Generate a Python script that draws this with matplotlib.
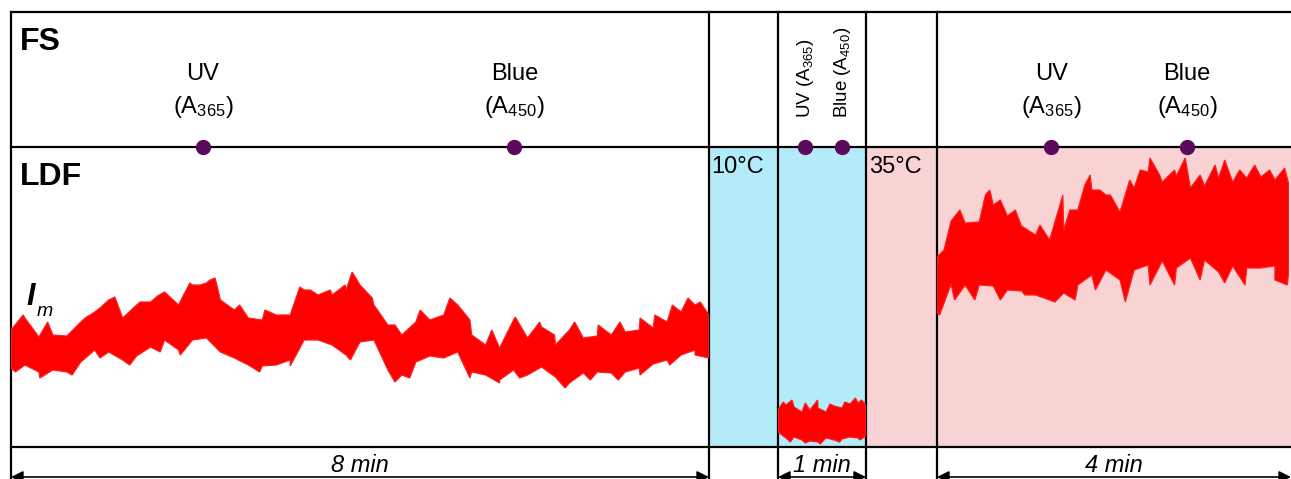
import numpy as np
import matplotlib.pyplot as plt

plt.rcParams['font.family'] = ['Liberation Sans', 'DejaVu Sans']
plt.rcParams['mathtext.fontset'] = 'custom'
plt.rcParams['mathtext.rm'] = 'Liberation Sans'
plt.rcParams['mathtext.it'] = 'Liberation Sans:italic'

W, H = 1291, 479

# segments: duration in minutes and label
seg_minutes = [8, 1, 4]
seg_labels = ['8 min', '1 min', '4 min']
temp_labels = ['10°C', '35°C']

# LDF trace, upper / lower envelope (arbitrary units, 0..300 panel height)
seg1_upper = [117, 129, 110, 112, 111, 125, 135, 147, 129, 142, 145, 155, 142,
              162, 164, 147, 137, 129, 127, 132, 132, 157, 152, 152, 157, 162,
              142, 122, 112, 125, 127, 132, 142, 112, 102, 99, 127, 109, 120,
              102, 117, 109, 111, 112, 115, 117, 119, 125, 135, 142, 132]
seg1_lower = [79, 82, 75, 77, 75, 85, 97, 95, 87, 91, 100, 107, 97,
              107, 109, 95, 89, 82, 81, 82, 87, 107, 107, 102, 92, 105,
              107, 77, 72, 85, 91, 89, 95, 75, 72, 67, 77, 72, 80,
              70, 64, 74, 75, 74, 75, 79, 83, 87, 92, 97, 89]

seg2_upper = [37, 42, 40, 35, 37, 39, 35, 41, 39, 43, 44, 42]
seg2_lower = [15, 9, 10, 7, 6, 5, 9, 7, 8, 10, 9, 11]

seg3_upper = [190, 226, 224, 225, 242, 231, 221, 212, 207, 217, 237, 257, 252,
              235, 259, 275, 265, 271, 259, 261, 269, 265, 269, 270, 267, 262]
seg3_lower = [134, 163, 162, 162, 161, 157, 156, 152, 147, 154, 162, 172, 177,
              167, 177, 182, 186, 179, 189, 187, 175, 181, 179, 179, 181, 177]

# single noise spikes above / below the envelope: time (min), value
seg1_peak_t = [0.14, 0.42, 0.85, 1.02, 1.19, 1.48, 1.68, 1.76, 2.05, 2.17, 2.28,
               2.34, 2.62, 2.91, 3.31, 3.43, 3.66, 3.83, 3.91, 4.14, 4.40, 4.69,
               5.03, 5.26, 5.51, 5.78, 6.06, 6.23, 6.46, 6.73, 6.98, 7.21, 7.38,
               7.58, 7.76, 7.90]
seg1_peak_v = [132, 125, 129, 139, 150, 145, 151, 155, 164, 162, 167,
               169, 142, 137, 160, 157, 157, 162, 175, 149, 122, 137,
               149, 127, 117, 130, 125, 112, 125, 122, 125, 129, 132,
               142, 149, 145]
seg1_dip_t = [0.05, 0.33, 0.70, 1.02, 1.36, 1.71, 1.94, 2.85, 3.20, 3.89, 4.40,
              4.57, 5.26, 5.60, 5.83, 6.35, 6.64, 6.96, 7.21, 7.55, 7.84]
seg1_dip_v = [75, 69, 72, 89, 82, 95, 92, 75, 81, 87, 65,
              69, 69, 64, 69, 59, 67, 67, 72, 82, 92]

seg2_peak_t = [0.06, 0.16, 0.31, 0.45, 0.59, 0.76, 0.88, 0.95]
seg2_peak_v = [45, 47, 44, 47, 43, 45, 49, 47]
seg2_dip_t = [0.14, 0.31, 0.48, 0.70, 0.93]
seg2_dip_v = [5, 4, 3, 5, 7]

seg3_peak_t = [0.08, 0.26, 0.55, 0.60, 0.72, 0.89, 1.17, 1.43, 1.51, 1.68, 1.74,
               1.85, 1.97, 2.19, 2.31, 2.42, 2.53, 2.70, 2.82, 2.99, 3.16, 3.27,
               3.44, 3.61, 3.78, 3.95]
seg3_peak_v = [197, 237, 252, 257, 247, 237, 222, 252, 237, 262, 272,
               257, 252, 267, 277, 289, 272, 277, 289, 272, 282, 287,
               277, 282, 277, 279]
seg3_dip_t = [0.03, 0.20, 0.43, 0.72, 1.00, 1.34, 1.57, 1.80, 2.14, 2.42, 2.70,
              2.99, 3.27, 3.50, 3.84, 3.98]
seg3_dip_v = [132, 147, 147, 147, 152, 145, 147, 157, 145, 162, 162,
              167, 164, 162, 167, 162]

# stimulus times (min) within each segment
uv_times = [2.2, 0.31, 1.30]
blue_times = [5.77, 0.73, 2.84]

# layout in pixels
X0, X1E, X2S, X2E, X3S, X3E = 11, 709, 778, 866, 937, 1289
Y_TOP, Y_MID, Y_BOT = 12, 147, 447
seg_px = [(X0, X1E), (X2S, X2E), (X3S, X3E)]


def merge_edge(t, v, st, sv):
    # envelope samples and spike readings, ordered in time
    tt = np.concatenate([t, st])
    vv = np.concatenate([v, sv])
    order = np.argsort(tt, kind='stable')
    return tt[order], vv[order]


fig = plt.figure(figsize=(W / 100, H / 100), dpi=100)
bg = fig.add_axes([0, 0, 1, 1])
bg.set_xlim(0, W)
bg.set_ylim(H, 0)
bg.axis('off')

# coloured temperature zones
bg.fill_between([X1E, X2E], Y_MID, Y_BOT, color='#b3ecf8', lw=0, zorder=0)
bg.fill_between([X2E, W], Y_MID, Y_BOT, color='#f9d2d4', lw=0, zorder=0)

lw = 1.6
for y in (Y_TOP, Y_MID, Y_BOT):
    bg.plot([X0, W], [y, y], color='black', lw=lw, zorder=3)
for x in (X0, X1E, X2S, X2E, X3S):
    bg.plot([x, x], [Y_TOP, H], color='black', lw=lw, zorder=3)

bg.text(20, 50, 'FS', fontsize=23, fontweight='bold', va='baseline')
bg.text(20, 185, 'LDF', fontsize=23, fontweight='bold', va='baseline')
bg.text(711, 173, temp_labels[0], fontsize=17, va='baseline')
bg.text(869, 173, temp_labels[1], fontsize=17, va='baseline')
bg.text(26, 305, 'I', fontsize=22, fontstyle='italic', fontweight='bold', va='baseline')
bg.text(37, 316, 'm', fontsize=14, fontstyle='italic', va='baseline')

uppers = [seg1_upper, seg2_upper, seg3_upper]
lowers = [seg1_lower, seg2_lower, seg3_lower]
peaks = [(seg1_peak_t, seg1_peak_v), (seg2_peak_t, seg2_peak_v), (seg3_peak_t, seg3_peak_v)]
dips = [(seg1_dip_t, seg1_dip_v), (seg2_dip_t, seg2_dip_v), (seg3_dip_t, seg3_dip_v)]
for i, (x0, x1) in enumerate(seg_px):
    ax = fig.add_axes([x0 / W, (H - Y_BOT) / H, (x1 - x0) / W, (Y_BOT - Y_MID) / H])
    ax.set_xlim(0, seg_minutes[i])
    ax.set_ylim(0, 300)
    ax.patch.set_alpha(0)
    ax.axis('off')
    t = np.linspace(0, seg_minutes[i], len(uppers[i]))
    tu, vu = merge_edge(t, np.array(uppers[i], float), *peaks[i])
    tl, vl = merge_edge(t, np.array(lowers[i], float), *dips[i])
    ax.fill(np.r_[tu, tl[::-1]], np.r_[vu, vl[::-1]], color='#ff0000',
            lw=0.9, edgecolor='#ff1f1f')

    # stimulus markers on the FS/LDF line
    for tt, name, sub in ((uv_times[i], 'UV', '365'), (blue_times[i], 'Blue', '450')):
        ax.plot([tt], [300], 'o', color='#5c0a5e', ms=10, clip_on=False, zorder=5)
        if i == 1:
            ax.annotate(name + r' (A$_{' + sub + '}$)', (tt, 300), xytext=(0, 29),
                        textcoords='offset pixels', rotation=90, ha='center',
                        va='bottom', fontsize=13.5)
        else:
            ax.annotate(name, (tt, 300), xytext=(0, 67), textcoords='offset pixels',
                        ha='center', va='baseline', fontsize=17)
            ax.annotate(r'(A$_{' + sub + '}$)', (tt, 300), xytext=(0, 34),
                        textcoords='offset pixels', ha='center', va='baseline',
                        fontsize=17)

# duration arrows in the bottom strip
arrow_ends = [(X0, X1E), (X2S, X2E), (X3S, W)]
for (a, b), lab in zip(arrow_ends, seg_labels):
    bg.annotate('', xy=(a, 477), xytext=(b, 477),
                arrowprops=dict(arrowstyle='<|-|>', color='black', lw=1.2,
                                mutation_scale=18, shrinkA=0, shrinkB=0))
    bg.text((a + b) / 2, 472, lab, fontsize=17, fontstyle='italic',
            ha='center', va='baseline')

fig.savefig('out.png', dpi=100)
